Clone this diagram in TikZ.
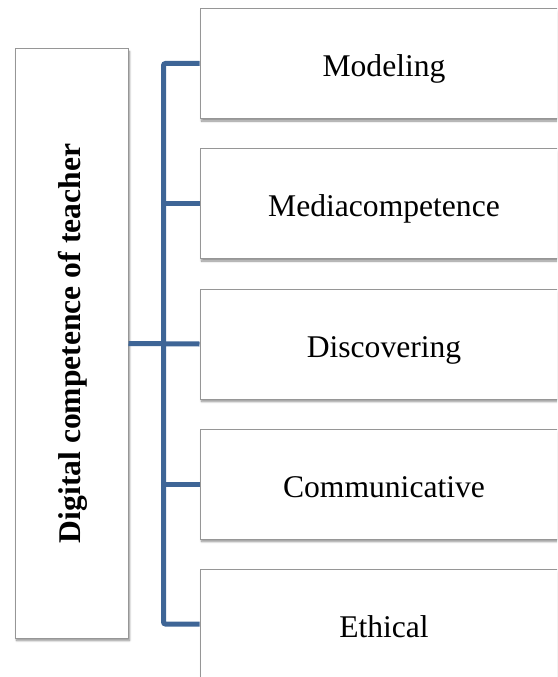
\documentclass[tikz,border=0pt]{standalone}
\usepackage{fontspec}
\setmainfont{Liberation Serif}
\usetikzlibrary{shadows,shadows.blur}
\definecolor{connblue}{RGB}{62,101,150}
\definecolor{boxgray}{RGB}{150,150,150}
\tikzset{
  box/.style={draw=boxgray, line width=1pt, fill=white, inner sep=0pt,
    blur shadow={shadow xshift=1.5pt, shadow yshift=-2.5pt, shadow blur steps=6, shadow blur radius=2pt, shadow opacity=45},
    font=\fontsize{31.6}{38}\selectfont},
  itembox/.style={box, minimum width=368pt, minimum height=110pt, text depth=0pt, text height=26pt},
  conn/.style={draw=connblue, line width=5pt}
}
\begin{document}
\begin{tikzpicture}[x=1pt,y=-1pt]
\useasboundingbox (0,0) rectangle (557,677);
\clip (0,0) rectangle (557,677);
\node[box, minimum width=113pt, minimum height=589pt] (lbox) at (71.5,343.5) {};
\node[rotate=90, font=\fontsize{31.6}{38}\selectfont\bfseries] (ltext) at ([xshift=1pt]lbox.center) {Digital competence of teacher};
\node[itembox] (m1) at (384,63.5) {Modeling};
\node[itembox] (m2) at (384,203.5) {Mediacompetence};
\node[itembox] (m3) at (384,344) {Discovering};
\node[itembox] (m4) at (384,484) {Communicative};
\node[itembox] (m5) at (384,624) {Ethical};
\draw[conn, rounded corners=2pt] (m1.west) -- ++(-36,0) |- (m5.west);
\draw[conn] (m2.west) -- ++(-36,0);
\draw[conn] (m4.west) -- ++(-36,0);
\draw[conn] (lbox.east) -- (m3.west);
\end{tikzpicture}
\end{document}
